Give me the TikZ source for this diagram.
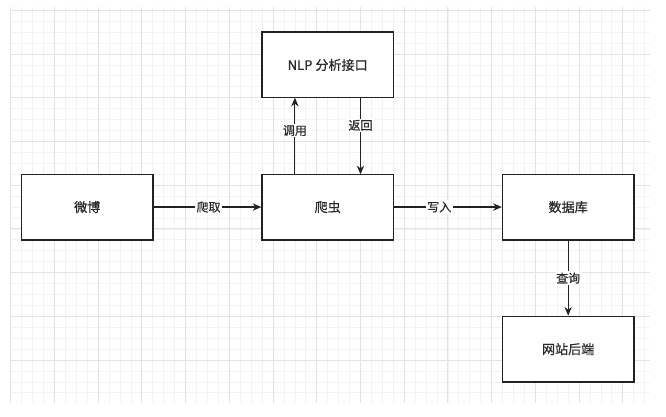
\documentclass[tikz,border=0pt]{standalone}
\usepackage{fontspec}
\newfontfamily\cjk[FakeBold=0.6]{Noto Sans CJK SC}
\usetikzlibrary{arrows.meta}
\definecolor{ink}{HTML}{222222}
\definecolor{txt}{HTML}{2A2A2A}
\definecolor{gridmin}{HTML}{F3F3F3}
\definecolor{gridmaj}{HTML}{E3E3E3}
\tikzset{
  box/.style={draw=ink, line width=1.1pt, fill=white, minimum width=98.4pt, minimum height=49.2pt, inner sep=0pt, font=\cjk\fontsize{9.8}{11}\selectfont, text=txt},
  conn/.style={draw=ink, line width=0.85pt, -{Stealth[length=6.5pt,width=5.5pt]}},
  lbl/.style={fill=white, inner sep=1pt, font=\cjk\fontsize{9}{10}\selectfont, text=txt}
}
\begin{document}
\begin{tikzpicture}[x=8.1975pt,y=-8.1975pt]
\useasboundingbox (-0.979,-0.942) rectangle (59.95,37.12);
\fill[white] (-0.979,-0.942) rectangle (59.95,37.12);
% minor grid
\foreach \i in {0,...,58} \draw[gridmin, line width=0.6pt] (\i,-0.3) -- (\i,35.9);
\foreach \j in {0,...,35} \draw[gridmin, line width=0.6pt] (-0.03,\j) -- (58.5,\j);
% major grid
\foreach \i in {0,4,...,56} \draw[gridmaj, line width=0.7pt] (\i,-0.3) -- (\i,35.9);
\foreach \j in {0,4,...,32} \draw[gridmaj, line width=0.7pt] (-0.03,\j) -- (58.5,\j);
% boxes
\node[box] (weibo) at (7,18) {微博};
\node[box] (crawler) at (29,18) {爬虫};
\node[box] (db) at (51,18) {数据库};
\node[box] (nlp) at (29,5) {NLP 分析接口};
\node[box] (web) at (51,31) {网站后端};
% helper coordinates
\coordinate (cA) at (26,15);
\coordinate (nA) at (26,8);
\coordinate (nB) at (32,8);
\coordinate (cB) at (32,15);
% connectors
\draw[conn] (weibo.east) -- node[lbl, pos=0.51] {爬取} (crawler.west);
\draw[conn] (crawler.east) -- node[lbl, pos=0.42] {写入} (db.west);
\draw[conn] (cA) -- node[lbl, pos=0.57] {调用} (nA);
\draw[conn] (nB) -- node[lbl, pos=0.36] {返回} (cB);
\draw[conn] (db.south) -- node[lbl, pos=0.5] {查询} (web.north);
\end{tikzpicture}
\end{document}
